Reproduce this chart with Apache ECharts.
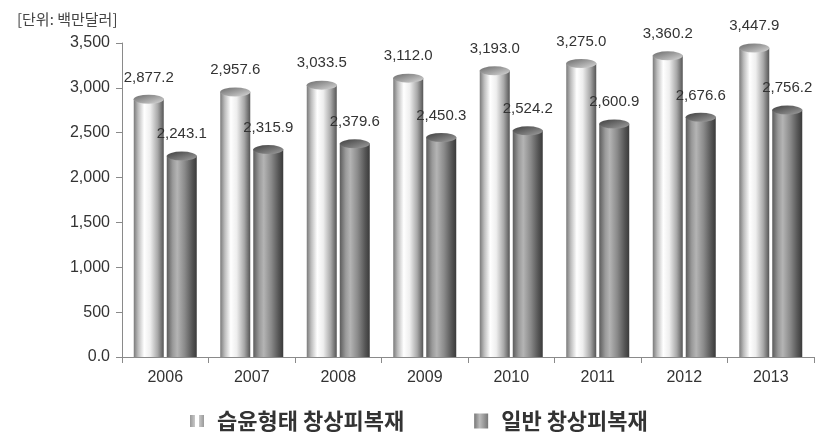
<!DOCTYPE html>
<html><head><meta charset="utf-8">
<script src="https://cdn.jsdelivr.net/npm/echarts@6/dist/echarts.min.js"></script>
<style>html,body{margin:0;padding:0;background:#fff}#c{width:822px;height:434px}</style>
</head><body><div id="c"></div>
<script>
const categories = ['2006','2007','2008','2009','2010','2011','2012','2013'];
const seriesNames = ['습윤형태 창상피복재','일반 창상피복재'];
const moistValues = [2877.2, 2957.6, 3033.5, 3112.0, 3193.0, 3275.0, 3360.2, 3447.9];
const generalValues = [2243.1, 2315.9, 2379.6, 2450.3, 2524.2, 2600.9, 2676.6, 2756.2];
const yTicks = [0, 500, 1000, 1500, 2000, 2500, 3000, 3500];
const unitText = '[단위: 백만달러]';

function fmt(v){
  const s = v.toFixed(1).split('.');
  return s[0].replace(/\B(?=(\d{3})+(?!\d))/g, ',') + '.' + s[1];
}
function grad(stops){
  return new echarts.graphic.LinearGradient(0,0,1,0, stops.map(s=>({offset:s[0],color:s[1]})));
}
const lightGrad = grad([[0,'#7a7a7a'],[0.15,'#bdbdbd'],[0.35,'#ffffff'],[0.55,'#eeeeee'],[0.8,'#a8a8a8'],[1,'#555555']]);
const darkGrad = grad([[0,'#5c5c5c'],[0.2,'#9a9a9a'],[0.35,'#b4b4b4'],[0.6,'#8a8a8a'],[0.85,'#555555'],[1,'#3a3a3a']]);
const capLight = new echarts.graphic.LinearGradient(0,0,1,1,[{offset:0,color:'#6a6a6a'},{offset:1,color:'#d8d8d8'}]);
const capDark = new echarts.graphic.LinearGradient(0,0,1,1,[{offset:0,color:'#3e3e3e'},{offset:1,color:'#a0a0a0'}]);
const legendLight = grad([[0,'#999999'],[0.5,'#dddddd'],[1,'#999999']]);
const legendDark = grad([[0,'#777777'],[0.4,'#bbbbbb'],[1,'#777777']]);

const BW = 30, OFF = 16.5;
const chart = echarts.init(document.getElementById('c'));
chart.setOption({
  animation:false,
  backgroundColor:'#fff',
  textStyle:{fontFamily:'Liberation Sans, Arial, sans-serif'},
  title:{text:unitText,left:12,top:7,textStyle:{fontSize:15,fontWeight:'normal',color:'#444',fontFamily:'Noto Sans CJK KR, sans-serif'}},
  grid:{left:122,right:8,top:43,bottom:77},
  legend:{
    data:[
      {name:seriesNames[0],icon:'path://M0,0h5v12h-5zM9,0h5v12h-5z',itemStyle:{color:legendLight}},
      {name:seriesNames[1],icon:'rect',itemStyle:{color:legendDark}}
    ],
    left:185,top:405,itemGap:70,itemWidth:14,itemHeight:15,
    textStyle:{fontSize:22,fontWeight:'bold',color:'#333',padding:[0,0,0,8],fontFamily:'Noto Sans CJK KR, sans-serif'}
  },
  xAxis:{
    type:'category',data:categories,
    axisLine:{lineStyle:{color:'#8a8a8a'}},
    axisTick:{show:true,length:6,lineStyle:{color:'#8a8a8a'}},
    axisLabel:{color:'#333',fontSize:16,margin:13}
  },
  yAxis:{
    type:'value',min:0,max:3500,interval:500,
    axisLine:{show:true,lineStyle:{color:'#8a8a8a'}},
    axisTick:{show:true,length:6,lineStyle:{color:'#8a8a8a'}},
    splitLine:{show:false},
    axisLabel:{color:'#333',fontSize:16,margin:12,
      formatter:v=> yTicks.indexOf(v)===0 ? '0.0' : v.toLocaleString('en-US')}
  },
  series:[
    {name:seriesNames[0],type:'bar',data:moistValues,barWidth:BW,barGap:'10%',
     itemStyle:{color:lightGrad},
     label:{show:true,position:'top',distance:14,color:'#333',fontSize:15,formatter:p=>fmt(p.value)}},
    {name:seriesNames[1],type:'bar',data:generalValues,barWidth:BW,barGap:'10%',
     itemStyle:{color:darkGrad},
     label:{show:true,position:'top',distance:14,color:'#333',fontSize:15,formatter:p=>fmt(p.value)}},
    {name:'cap1',type:'pictorialBar',data:moistValues,symbol:'circle',symbolSize:[BW,9],
     symbolPosition:'end',symbolOffset:[-OFF,'-50%'],barGap:'-100%',z:5,
     itemStyle:{color:capLight,borderColor:'#f2f2f2',borderWidth:1.2}},
    {name:'cap2',type:'pictorialBar',data:generalValues,symbol:'circle',symbolSize:[BW,9],
     symbolPosition:'end',symbolOffset:[OFF,'-50%'],barGap:'-100%',z:5,
     itemStyle:{color:capDark,borderColor:'#d0d0d0',borderWidth:1.2}}
  ]
});
</script></body></html>
